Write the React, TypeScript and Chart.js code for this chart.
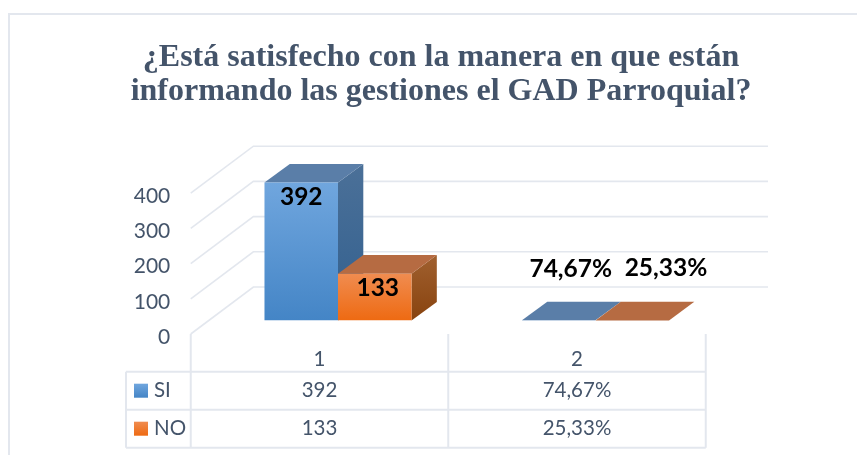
import React, { useEffect, useRef } from "react";
import { Chart, registerables } from "chart.js";

Chart.register(...registerables);

const titleLines = ["¿Está satisfecho con la manera en que están", "informando las gestiones el GAD Parroquial?"];
const categories = ["1", "2"];
const seriesNames = ["SI", "NO"];
const siValues = [392, 0.7467];
const noValues = [133, 0.2533];
const siText = ["392", "74,67%"];
const noText = ["133", "25,33%"];
const yTicks = [0, 100, 200, 300, 400];

const TEXT = "#44546A";
const GRID = "#E3E7EE";
const FONT = "Lato, Carlito, 'Open Sans', sans-serif";

const DEPTH_X = 25.3;
const DEPTH_Y = -18.6;
const FLOOR_DX = -18.5; // front plane relative to the bars
const FLOOR_DY = 13.5;
const BACK_DX = 62.6;
const BACK_DY = -47;
const GRID_RIGHT = 768;

const faces = [
  { top: "#5A7EA8", sideA: "#4B7098", sideB: "#32608F", frontA: "#70A6DE", frontB: "#4485C6" },
  { top: "#B66B42", sideA: "#A0602F", sideB: "#88430F", frontA: "#F08C50", frontB: "#EE6A12" },
];

const labelOffsets = [
  [[0, 14.7], [12, -51]],
  [[3, 14], [33.7, -52]],
];

const backdrop = {
  id: "backdrop",
  beforeInit(chart: any) {
    chart.ctx.textRendering = "geometricPrecision";
  },
  beforeDraw(chart: any) {
    const { ctx, scales } = chart;
    const y = scales.y;
    const x = scales.x;
    ctx.save();
    ctx.fillStyle = "#FFFFFF";
    ctx.fillRect(0, 0, chart.width, chart.height);
    ctx.strokeStyle = GRID;
    ctx.lineWidth = 2;
    ctx.beginPath();
    ctx.moveTo(9, 455);
    ctx.lineTo(9, 14);
    ctx.lineTo(857, 14);
    ctx.stroke();

    const catWidth = x.getPixelForValue(1) - x.getPixelForValue(0);
    const frontX = x.getPixelForValue(0) - catWidth / 2 + FLOOR_DX;
    ctx.lineWidth = 1.6;
    yTicks.forEach((v) => {
      const fy = y.getPixelForValue(v) + FLOOR_DY;
      ctx.beginPath();
      ctx.moveTo(frontX, fy);
      ctx.lineTo(frontX + BACK_DX, fy + BACK_DY);
      ctx.lineTo(GRID_RIGHT, fy + BACK_DY);
      ctx.stroke();
    });

    // data table
    const top = y.getPixelForValue(0) + FLOOR_DY;
    const row1 = 371.7;
    const rowH = 38;
    const tableLeft = 126;
    const columns = [0, 1, 2].map((i) => frontX + i * catWidth);
    ctx.lineWidth = 2;
    ctx.beginPath();
    columns.forEach((cx) => {
      ctx.moveTo(cx, top);
      ctx.lineTo(cx, row1 + 2 * rowH);
    });
    ctx.moveTo(tableLeft, row1 + 2 * rowH);
    ctx.lineTo(tableLeft, row1);
    [0, 1, 2].forEach((r) => {
      ctx.moveTo(tableLeft, row1 + r * rowH);
      ctx.lineTo(columns[2], row1 + r * rowH);
    });
    ctx.stroke();

    ctx.font = `20.5px ${FONT}`;
    ctx.fillStyle = TEXT;
    ctx.textBaseline = "middle";
    [siText, noText].forEach((rowText, r) => {
      const cy = row1 + rowH * r + rowH / 2;
      ctx.textAlign = "center";
      rowText.forEach((t, c) => {
        ctx.fillStyle = TEXT;
        ctx.fillText(t, columns[c] + catWidth / 2, cy - 0.5);
      });
      const sw = ctx.createLinearGradient(0, cy - 7, 0, cy + 7);
      sw.addColorStop(0, faces[r].frontA);
      sw.addColorStop(1, faces[r].frontB);
      ctx.fillStyle = sw;
      ctx.fillRect(134, cy - 7, 14, 14);
      ctx.fillStyle = TEXT;
      ctx.textAlign = "left";
      ctx.fillText(seriesNames[r], 154, cy - 0.5);
    });
    ctx.restore();
  },
  beforeDatasetsDraw(chart: any) {
    const { ctx } = chart;
    ctx.save();
    chart.data.datasets.forEach((_: any, d: number) => {
      chart.getDatasetMeta(d).data.forEach((bar: any) => {
        const l = bar.x - bar.width / 2;
        const r = bar.x + bar.width / 2;
        const t = bar.y;
        const b = bar.base;
        const f = faces[d];
        if (b - t > 1) {
          const g = ctx.createLinearGradient(0, t + DEPTH_Y, 0, b);
          g.addColorStop(0, f.sideA);
          g.addColorStop(1, f.sideB);
          ctx.fillStyle = g;
          ctx.beginPath();
          ctx.moveTo(r, t);
          ctx.lineTo(r + DEPTH_X, t + DEPTH_Y);
          ctx.lineTo(r + DEPTH_X, b + DEPTH_Y);
          ctx.lineTo(r, b);
          ctx.closePath();
          ctx.fill();
        }
        ctx.fillStyle = f.top;
        ctx.beginPath();
        ctx.moveTo(l, t);
        ctx.lineTo(l + DEPTH_X, t + DEPTH_Y);
        ctx.lineTo(r + DEPTH_X, t + DEPTH_Y);
        ctx.lineTo(r, t);
        ctx.closePath();
        ctx.fill();
      });
    });
    ctx.restore();
  },
  afterDatasetsDraw(chart: any) {
    const { ctx } = chart;
    ctx.save();
    ctx.font = `bold 24.5px ${FONT}`;
    ctx.fillStyle = "#000000";
    ctx.textAlign = "center";
    ctx.textBaseline = "middle";
    [siText, noText].forEach((texts, d) => {
      chart.getDatasetMeta(d).data.forEach((bar: any, i: number) => {
        const [ox, oy] = labelOffsets[d][i];
        ctx.fillText(texts[i], bar.x + ox, bar.y + oy);
      });
    });
    ctx.restore();
  },
};

export default function App() {
  const ref = useRef<HTMLCanvasElement | null>(null);
  useEffect(() => {
    if (!ref.current) return;
    const frontFill = (d: number) => (c: any) => {
      const chart = c.chart;
      if (!chart.chartArea || c.raw === undefined) return faces[d].frontA;
      const y = chart.scales.y;
      const top = y.getPixelForValue(c.raw);
      const bottom = y.getPixelForValue(0);
      const g = chart.ctx.createLinearGradient(0, top, 0, Math.max(bottom, top + 1));
      g.addColorStop(0, faces[d].frontA);
      g.addColorStop(1, faces[d].frontB);
      return g;
    };
    const chart = new Chart(ref.current, {
      type: "bar",
      data: {
        labels: categories,
        datasets: [
          { label: seriesNames[0], data: siValues, backgroundColor: frontFill(0) },
          { label: seriesNames[1], data: noValues, backgroundColor: frontFill(1) },
        ],
      },
      options: {
        responsive: false,
        animation: false,
        devicePixelRatio: 1,
        layout: { padding: { left: 25, right: 0, top: 0, bottom: 0 } },
        datasets: { bar: { categoryPercentage: 0.571, barPercentage: 1 } },
        plugins: {
          legend: { display: false },
          tooltip: { enabled: false },
          title: {
            display: true,
            text: titleLines,
            color: TEXT,
            font: { family: "'Liberation Serif', serif", size: 32, weight: "bold", lineHeight: 1.0625 },
            padding: { top: 40.5, bottom: 71.2 },
          },
        },
        scales: {
          x: {
            grid: { display: false },
            border: { display: false },
            ticks: { color: TEXT, font: { family: FONT, size: 20.5 }, labelOffset: -18.5, padding: 19 },
            afterFit(s: any) { s.height = 134.5; },
          },
          y: {
            min: 0,
            max: 400,
            grid: { display: false },
            border: { display: false },
            ticks: { color: TEXT, font: { family: FONT, size: 21 }, stepSize: 100, labelOffset: 16.5, padding: 31 },
            afterFit(s: any) { s.width = 184.25; },
          },
          yRight: {
            position: "right",
            min: 0,
            max: 400,
            grid: { display: false },
            border: { display: false },
            ticks: { display: false },
            afterFit(s: any) { s.width = 132.75; },
          },
        },
      },
      plugins: [backdrop],
    } as any);
    return () => chart.destroy();
  }, []);
  return (
    <div style={{ position: "absolute", left: 0, top: 0, width: 857, height: 455 }}>
      <canvas ref={ref} width={857} height={455} style={{ display: "block" }} />
    </div>
  );
}
